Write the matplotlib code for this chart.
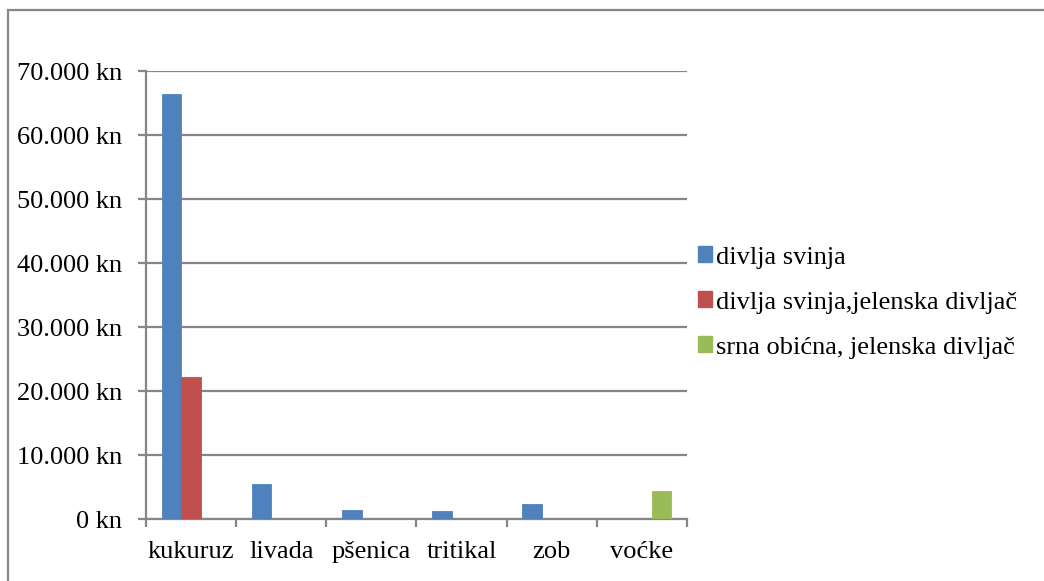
import matplotlib
matplotlib.use("Agg")
import matplotlib.pyplot as plt
from matplotlib.patches import Patch, Rectangle
from matplotlib.ticker import FuncFormatter, MultipleLocator
import numpy as np

categories = ["kukuruz", "livada", "pšenica", "tritikal", "zob", "voćke"]
series_names = ["divlja svinja",
                "divlja svinja,jelenska divljač",
                "srna obićna, jelenska divljač"]
divlja_svinja = [66400, 5400, 1350, 1250, 2400, 0]
svinja_jelen = [22200, 0, 0, 0, 0, 0]
srna_jelen = [0, 0, 0, 0, 0, 4400]
colors = ["#4F81BD", "#C0504D", "#9BBB59"]

plt.rcParams["font.family"] = ["Liberation Serif", "DejaVu Serif"]
grid_col = "#868686"

fig = plt.figure(figsize=(10.44, 5.81), dpi=100)
ax = fig.add_axes([146 / 1044, 1 - 519 / 581, (687 - 146) / 1044, (519 - 71) / 581])

x = np.arange(len(categories))
w = 0.217
for i, (vals, col) in enumerate(zip([divlja_svinja, svinja_jelen, srna_jelen], colors)):
    ax.bar(x + (i - 1) * w, vals, width=w, color=col, edgecolor=col,
           linewidth=0.6, zorder=3)

ax.set_xlim(-0.5, len(categories) - 0.5)
ax.set_ylim(0, 70000)
ax.yaxis.set_major_locator(MultipleLocator(10000))
ax.yaxis.set_major_formatter(FuncFormatter(lambda v, p: f"{int(v):,} kn".replace(",", ".")))
ax.grid(axis="y", color=grid_col, linewidth=1.6, zorder=0)
ax.set_axisbelow(True)

# category boundary ticks
ax.set_xticks(np.arange(-0.5, len(categories), 1.0))
ax.set_xticklabels([])
ax.set_xticks(x, minor=True)
ax.set_xticklabels(categories, minor=True, fontsize=19)
ax.tick_params(axis="x", which="major", length=6, width=1.6, color=grid_col, direction="out")
ax.tick_params(axis="x", which="minor", length=0, pad=16)
ax.tick_params(axis="y", length=6, width=1.6, color=grid_col, labelsize=19, pad=11)

for s in ["top", "right"]:
    ax.spines[s].set_visible(False)
for s in ["left", "bottom"]:
    ax.spines[s].set_color(grid_col)
    ax.spines[s].set_linewidth(1.6)

handles = [Patch(facecolor=c, edgecolor=c) for c in colors]
fig.legend(handles, series_names, loc="center left",
           bbox_to_anchor=(674 / 1044, 1 - 302.5 / 581), frameon=False,
           fontsize=19, handlelength=0.55, handleheight=0.55,
           handletextpad=0.15, labelspacing=0.86)

# outer chart frame
fig.patches.append(Rectangle((8 / 1044, -0.2), 1.5, 1.2 - 10 / 581,
                             transform=fig.transFigure, fill=False,
                             edgecolor=grid_col, linewidth=1.6))

fig.savefig("out.png", dpi=100)
